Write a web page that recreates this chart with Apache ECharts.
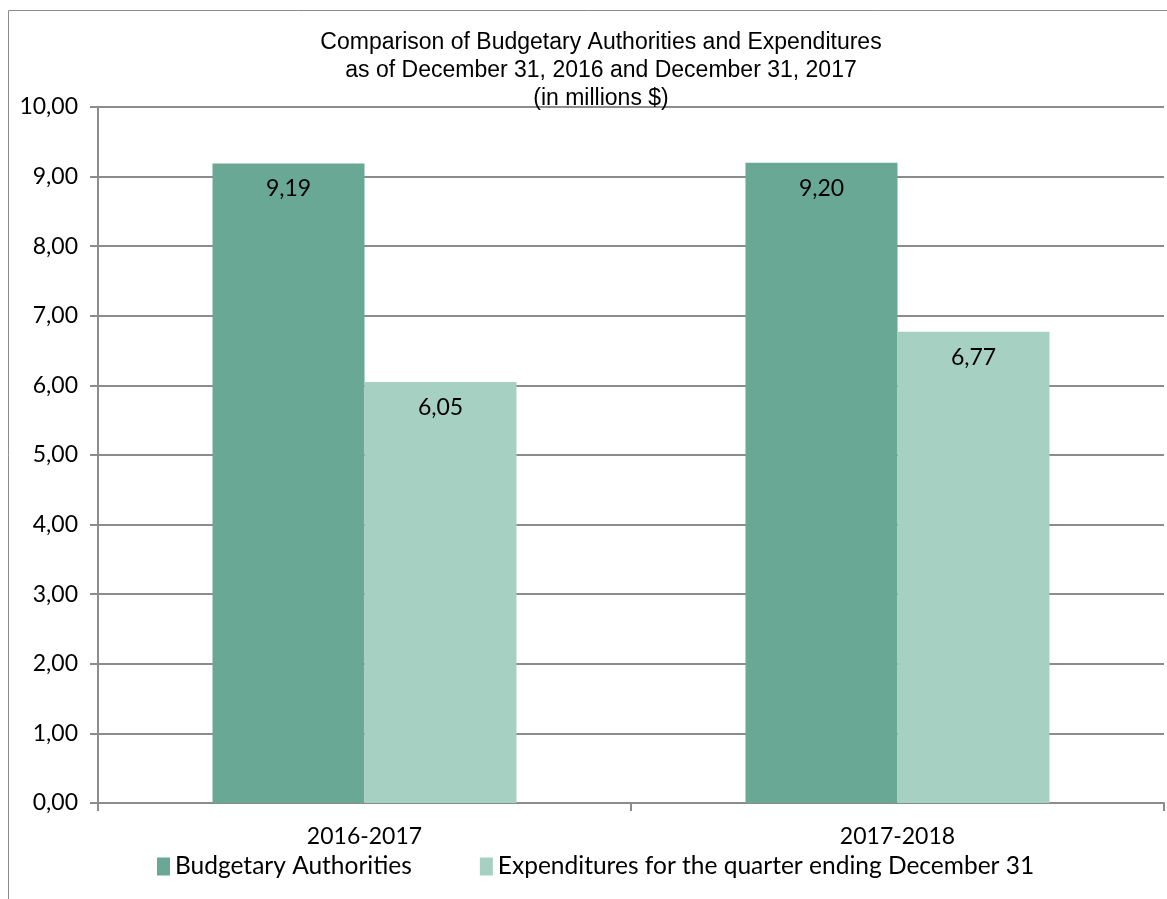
<!DOCTYPE html>
<html><head><meta charset="utf-8">
<script src="https://cdn.jsdelivr.net/npm/echarts@6/dist/echarts.min.js"></script>
<style>html,body{margin:0;padding:0;background:#fff}#c{width:1167px;height:899px}</style>
</head><body><div id="c"></div>
<script>
const categories = ['2016-2017', '2017-2018'];
const budgetary = [9.19, 9.20];
const expenditures = [6.05, 6.77];
const seriesNames = ['Budgetary Authorities', 'Expenditures for the quarter ending December 31'];
const titleLines = ['Comparison of Budgetary Authorities and Expenditures', 'as of December 31, 2016 and December 31, 2017', '(in millions $)'];

const fmt = v => v.toFixed(2).replace('.', ',');
const lblFont = 'Lato, "Noto Sans", sans-serif';
const chart = echarts.init(document.getElementById('c'), null, {renderer: 'canvas'});
chart.setOption({
  animation: false,
  backgroundColor: '#fff',
  graphic: [{type: 'rect', shape: {x: 8.5, y: 10.5, width: 1300, height: 1000}, style: {fill: 'none', stroke: '#8c8c8c', lineWidth: 1}, silent: true, z: -1}],
  title: {
    text: titleLines.join('\n'),
    left: 596, top: 24, textAlign: 'center',
    textStyle: {fontFamily: '"Liberation Sans", Arial, sans-serif', fontSize: 23, fontWeight: 'normal', color: '#000', lineHeight: 28}
  },
  legend: {
    data: seriesNames, bottom: 15, left: 152,
    itemWidth: 13, itemHeight: 18, itemGap: 68,
    icon: 'rect',
    textStyle: {fontFamily: lblFont, fontSize: 24.5, color: '#000', padding: [0, 0, 0, 0]}
  },
  grid: {left: 98, right: 3, top: 107, bottom: 96, containLabel: false},
  xAxis: {
    type: 'category', data: categories,
    axisLine: {lineStyle: {color: '#8c8c8c', width: 2}},
    axisTick: {show: true, length: 8, lineStyle: {color: '#8c8c8c', width: 2}, interval: 0},
    axisLabel: {fontFamily: lblFont, fontSize: 23, color: '#000', margin: 22}
  },
  yAxis: {
    type: 'value', min: 0, max: 10, interval: 1,
    axisLine: {show: true, lineStyle: {color: '#8c8c8c', width: 2}},
    axisTick: {show: true, length: 8, lineStyle: {color: '#8c8c8c', width: 2}},
    splitLine: {lineStyle: {color: '#8c8c8c', width: 2}},
    axisLabel: {fontFamily: lblFont, fontSize: 23, color: '#000', margin: 20, formatter: v => fmt(v)}
  },
  series: [
    {name: seriesNames[0], type: 'bar', data: budgetary, barWidth: 152, barGap: '0%',
     itemStyle: {color: '#68a894'},
     label: {show: true, position: 'insideTop', distance: 14, formatter: p => fmt(p.value), fontFamily: lblFont, fontSize: 23, color: '#000'}},
    {name: seriesNames[1], type: 'bar', data: expenditures, barWidth: 152,
     itemStyle: {color: '#a5d0c2'},
     label: {show: true, position: 'insideTop', distance: 14, formatter: p => fmt(p.value), fontFamily: lblFont, fontSize: 23, color: '#000'}}
  ]
});
</script></body></html>
